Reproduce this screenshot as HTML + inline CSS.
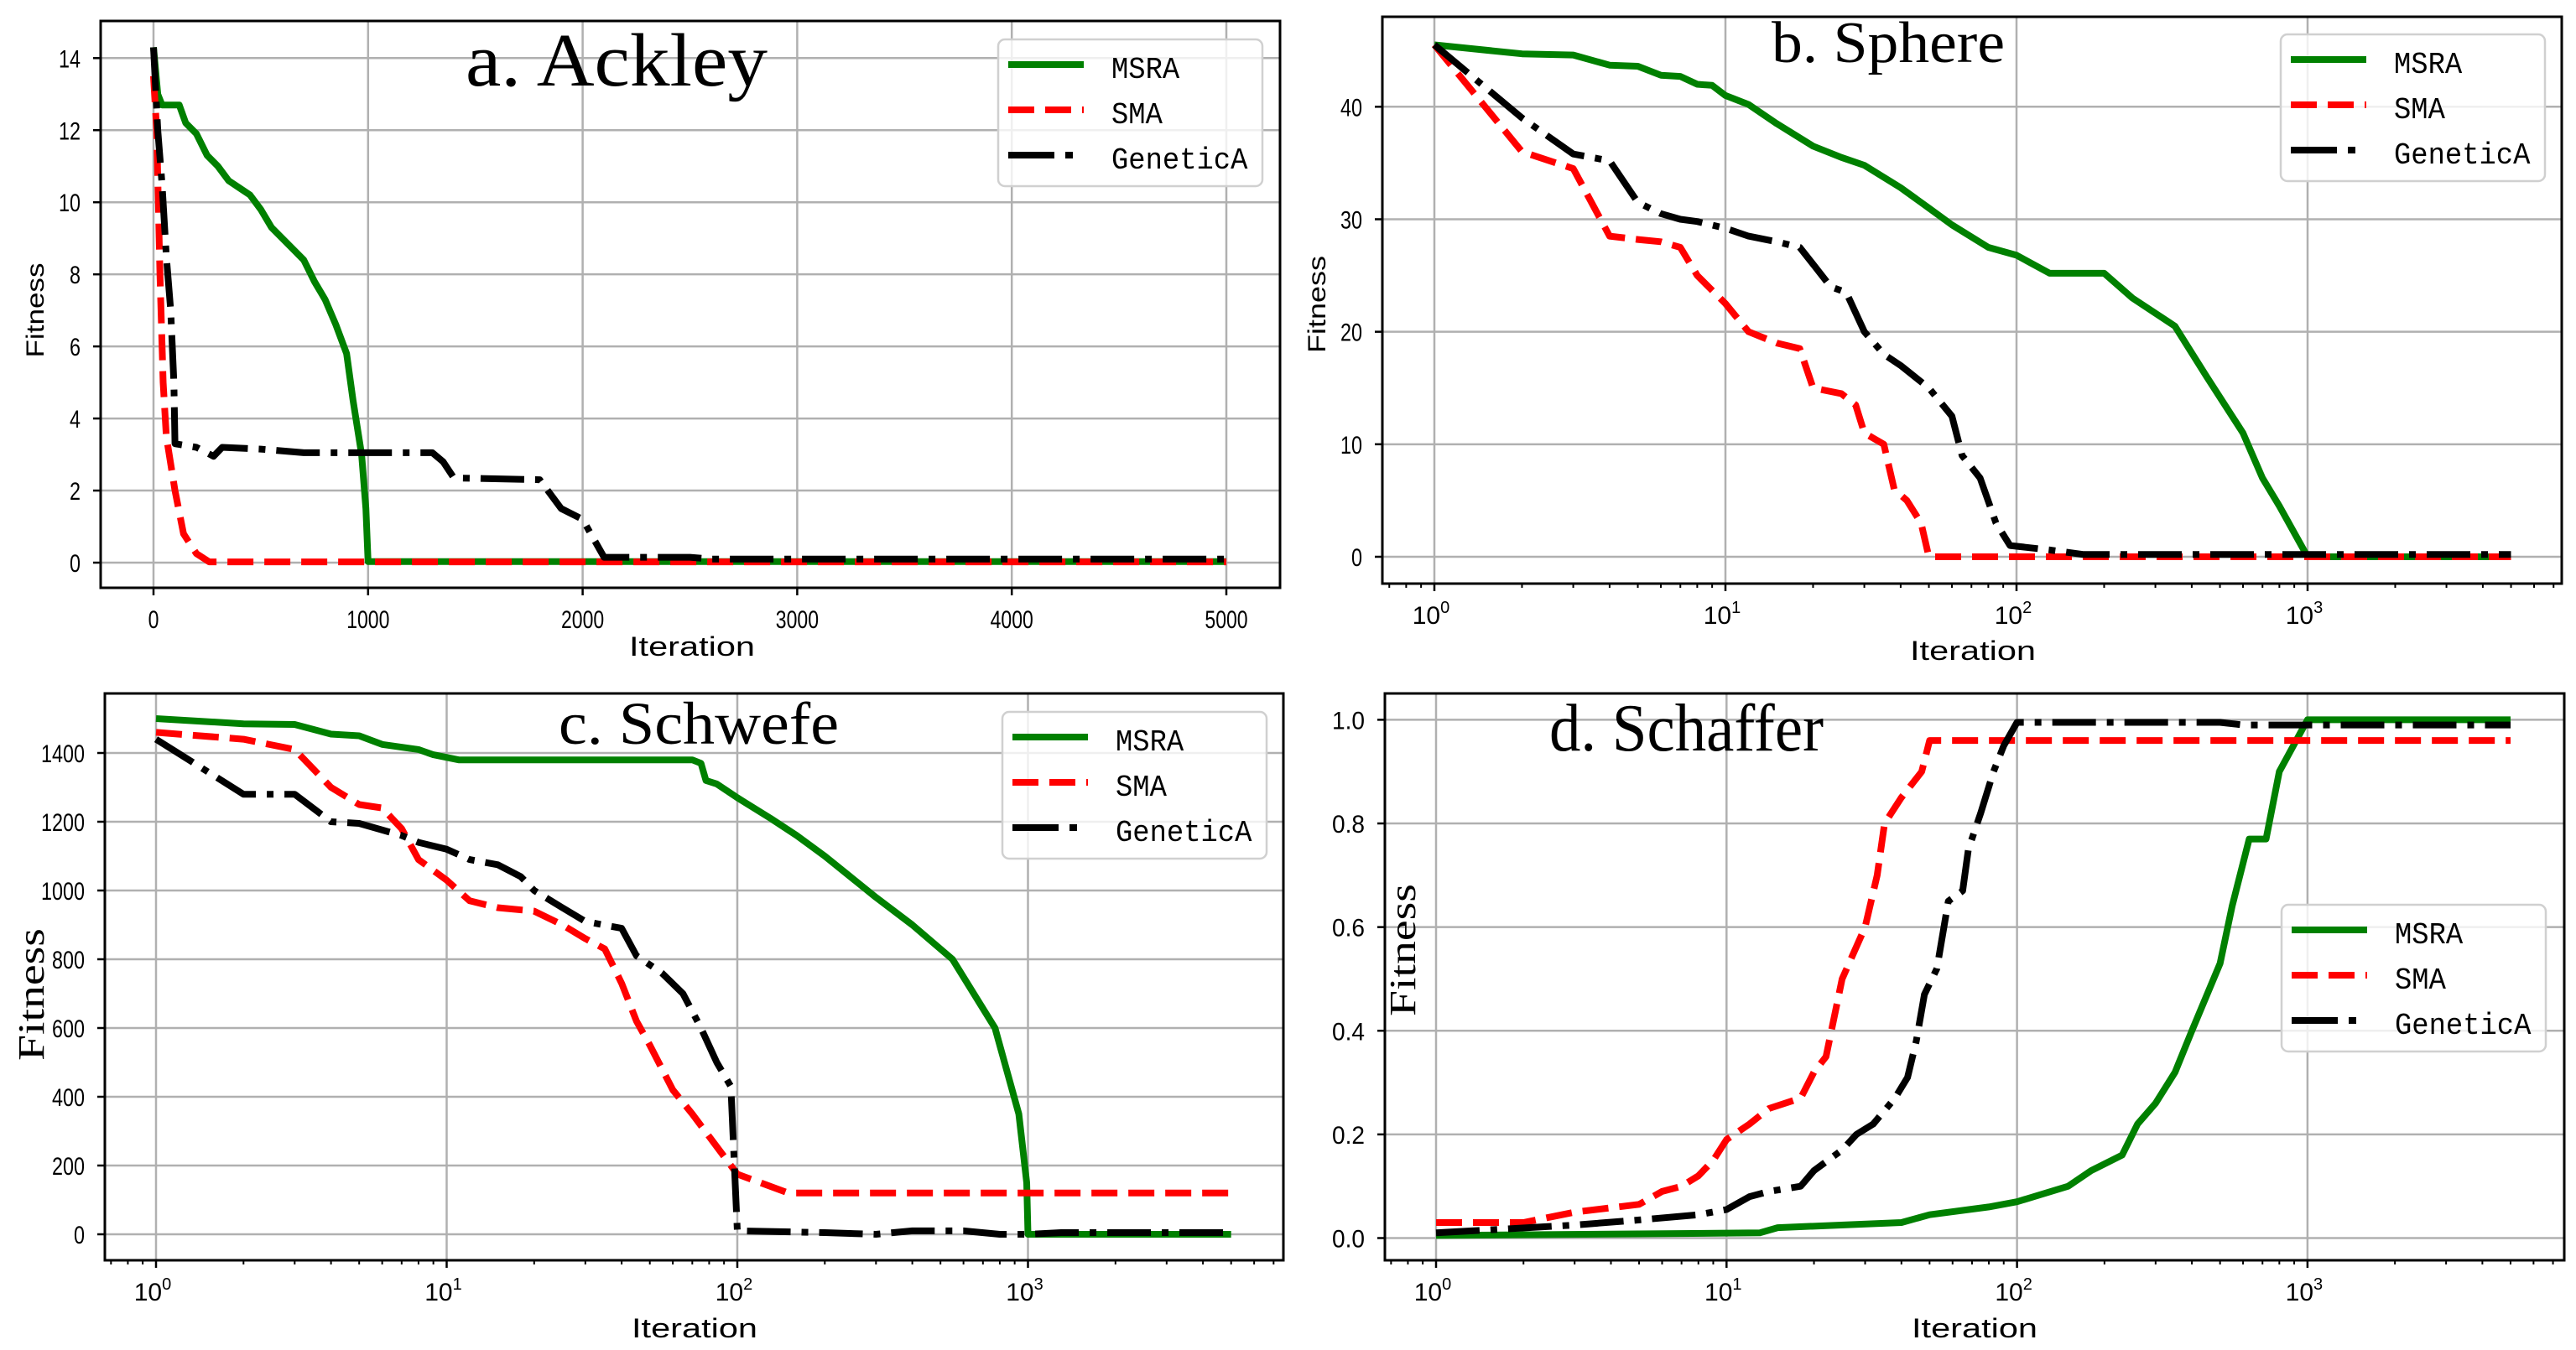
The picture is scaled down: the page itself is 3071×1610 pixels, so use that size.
<!DOCTYPE html>
<html><head><meta charset="utf-8"><style>
html,body{margin:0;padding:0;background:#fff;}
svg{display:block;}
</style></head><body>
<svg id="chart" width="3071" height="1610" viewBox="0 0 3071 1610" xmlns="http://www.w3.org/2000/svg">
<rect x="0" y="0" width="3071" height="1610" fill="#fff"/>
</svg>
<script>
// ---------- Data ----------
// Panel a: Ackley (linear x)
const aMsraX = [0,20,40,120,150,200,250,300,350,400,450,500,550,600,650,700,750,800,850,900,930,970,990,1000,5000];
const aMsraY = [14.3,13,12.7,12.7,12.2,11.9,11.3,11,10.6,10.4,10.2,9.8,9.3,9,8.7,8.4,7.8,7.3,6.6,5.8,4.5,3,1.5,0.03,0.03];
const aSmaX = [0,15,30,45,60,100,140,200,260,5000];
const aSmaY = [13.5,12,8,5,3.5,2,0.8,0.25,0.02,0.02];
const aGaX = [0,20,40,60,80,95,100,200,280,320,500,700,1300,1350,1400,1800,1900,2000,2100,2500,2600,5000];
const aGaY = [14.3,12,10.5,8.5,7,5,3.3,3.2,2.95,3.2,3.15,3.05,3.05,2.8,2.35,2.3,1.5,1.2,0.15,0.15,0.1,0.1];
const aXTicks = [0,1000,2000,3000,4000,5000];
const aYTicks = [0,2,4,6,8,10,12,14];
// Panel b: Sphere (log x)
const bMsraX = [1,2,3,4,5,6,7,8,9,10,12,15,20,25,30,40,50,60,80,100,130,200,250,350,450,600,700,800,1000,5000];
const bMsraY = [45.5,44.7,44.6,43.7,43.6,42.8,42.7,42,41.9,41,40.2,38.5,36.5,35.5,34.8,32.8,31,29.5,27.5,26.8,25.2,25.2,23,20.5,16,11,7,4.5,0,0];
const bSmaX = [1,2,3,4,5,6,7,8,10,12,15,18,20,25,28,30,35,38,42,47,50,5000];
const bSmaY = [45.5,36,34.5,28.5,28.2,28,27.5,25,22.5,20,19,18.5,15,14.5,13.5,11,10,6,5,3,0,0];
const bGaX = [1,2,3,4,5,6,7,8,10,12,15,18,20,23,26,30,35,40,50,60,65,75,85,95,130,170,5000];
const bGaY = [45.5,39,35.8,35.2,31.5,30.5,30,29.8,29.2,28.5,28,27.5,26,24,23.5,20,18,17,15,12.5,9,7,3,1,0.6,0.2,0.2];
const bYTicks = [0,10,20,30,40];
// Panel c: Schwefel (log x)
const cMsraX = [1,2,3,4,5,6,8,9,11,70,75,78,85,100,130,160,200,300,400,550,770,930,990,1000,5000];
const cMsraY = [1500,1485,1483,1455,1450,1425,1410,1395,1380,1380,1370,1320,1310,1270,1210,1160,1100,980,900,800,600,350,150,0,0];
const cSmaX = [1,2,3,4,5,6,7,8,10,12,15,20,25,30,35,40,45,50,60,70,100,150,5000];
const cSmaY = [1460,1440,1410,1300,1250,1240,1180,1090,1030,970,950,940,900,860,830,730,620,550,420,350,175,120,120];
const cGaX = [1,2,3,4,5,7,8,10,12,15,18,20,25,30,40,45,55,65,75,85,95,100,200,300,400,600,800,1000,1300,5000];
const cGaY = [1440,1280,1280,1200,1195,1160,1140,1120,1090,1075,1040,1000,950,910,890,810,760,700,600,500,430,10,5,0,10,10,0,0,5,5];
const cYTicks = [0,200,400,600,800,1000,1200,1400];
// Panel d: Schaffer (log x)
const dMsraX = [1,13,15,40,50,80,100,150,180,230,260,300,350,400,500,550,630,720,800,1000,5000];
const dMsraY = [0.005,0.01,0.02,0.03,0.045,0.06,0.07,0.1,0.13,0.16,0.22,0.26,0.32,0.4,0.53,0.64,0.77,0.77,0.9,1.0,1.0];
const dSmaX = [1,2,3,5,6,7,8,9,10,12,14,18,20,22,25,30,33,35,40,47,50,5000];
const dSmaY = [0.03,0.03,0.05,0.065,0.09,0.1,0.12,0.15,0.19,0.22,0.25,0.27,0.32,0.35,0.5,0.6,0.7,0.8,0.85,0.9,0.96,0.96];
const dGaX = [1,3,5,8,10,12,14,18,20,25,28,32,38,42,45,48,53,58,65,68,75,83,90,100,500,600,5000];
const dGaY = [0.01,0.025,0.035,0.045,0.055,0.08,0.09,0.1,0.13,0.17,0.2,0.22,0.27,0.31,0.38,0.47,0.52,0.65,0.67,0.75,0.82,0.9,0.95,0.995,0.995,0.99,0.99];
const dYTicks = [0,0.2,0.4,0.6,0.8,1.0];
const logXTicks = [0,1,2,3];
const seriesNames = ["MSRA","SMA","GeneticA"];

// ---------- Rendering ----------
const NS = "http://www.w3.org/2000/svg";
const svg = document.getElementById("chart");
function mk(tag, parent, attrs){
  const e = document.createElementNS(NS, tag);
  for (const k in attrs) e.setAttribute(k, attrs[k]);
  parent.appendChild(e);
  return e;
}
const STY = [
  {stroke:"#008000", w:8, dash:null},
  {stroke:"#ff0000", w:8, dash:"31 13"},
  {stroke:"#000000", w:8, dash:"52 13 8 13"}
];

function panel(cfg){
  const g = mk("g", svg, {});
  
  
  const xs = cfg.log ? (v => cfg.x0 + cfg.dec * Math.log10(v)) : (v => cfg.x0 + (cfg.x1 - cfg.x0) * v / cfg.xmax);
  const ys = v => cfg.y0 - cfg.yk * v;
  const cid = "clip-" + cfg.name;
  const cp = mk("clipPath", g, {id: cid});
  mk("rect", cp, {x: cfg.l, y: cfg.t, width: cfg.r - cfg.l, height: cfg.b - cfg.t});
  const grid = mk("g", g, {stroke: "#b0b0b0", "stroke-width": 2.5});
  
  
  const xt = cfg.log ? logXTicks.map(p => Math.pow(10, p)) : cfg.xTicks;
  xt.forEach(v => { const x = xs(v); mk("line", grid, {x1: x, x2: x, y1: cfg.t, y2: cfg.b}); });
  cfg.yTicks.forEach(v => { const y = ys(v); mk("line", grid, {x1: cfg.l, x2: cfg.r, y1: y, y2: y}); });
  const sg = mk("g", g, {"clip-path": "url(#" + cid + ")"});
  cfg.series.forEach((s, i) => {
    const d = s[0].map((xv, k) => (k ? "L" : "M") + xs(xv).toFixed(1) + " " + ys(s[1][k]).toFixed(1)).join(" ");
    const p = mk("path", sg, {d: d, fill: "none", stroke: STY[i].stroke, "stroke-width": STY[i].w, "stroke-linejoin": "round"});
    if (STY[i].dash) p.setAttribute("stroke-dasharray", STY[i].dash);
    
    
  });
  const fr = mk("rect", g, {x: cfg.l, y: cfg.t, width: cfg.r - cfg.l, height: cfg.b - cfg.t, fill: "none", stroke: "#000", "stroke-width": 3});
  
  
  const xa = mk("g", g, {});
  
  
  xt.forEach((v, i) => {
    const x = xs(v);
    mk("line", xa, {x1: x, x2: x, y1: cfg.b, y2: cfg.b + 9, stroke: "#000", "stroke-width": 2.5});
    if (cfg.log) {
      const t = mk("text", xa, {x: x - 4, y: cfg.b + 48, "font-family": "Liberation Sans, sans-serif", "font-size": 30, "text-anchor": "middle", fill: "#000"});
      t.appendChild(document.createTextNode("10"));
      const sp = mk("tspan", t, {dy: -13, "font-size": 20});
      sp.textContent = String(logXTicks[i]);
      
      
    } else {
      const s = String(v);
      const t = mk("text", xa, {x: x, y: cfg.b + 48, "font-family": "Liberation Sans, sans-serif", "font-size": 30, "text-anchor": "middle", textLength: s.length * 12.8, lengthAdjust: "spacingAndGlyphs", fill: "#000"});
      t.textContent = s;
      
      
    }
  });
  if (cfg.log) {
    for (let p = -1; p <= 3; p++) for (let m = 2; m <= 9; m++) {
      const v = m * Math.pow(10, p);
      const x = xs(v);
      if (x < cfg.l + 2 || x > cfg.r - 2) continue;
      mk("line", xa, {x1: x, x2: x, y1: cfg.b, y2: cfg.b + 5, stroke: "#000", "stroke-width": 2});
    }
  }
  const ya = mk("g", g, {});
  
  
  cfg.yTicks.forEach(v => {
    const y = ys(v);
    mk("line", ya, {x1: cfg.l - 9, x2: cfg.l, y1: y, y2: y, stroke: "#000", "stroke-width": 2.5});
    const s = cfg.fmt(v);
    const t = mk("text", ya, {x: cfg.l - 24, y: y + 11, "font-family": "Liberation Sans, sans-serif", "font-size": 30, "text-anchor": "end", textLength: s.length * 13, lengthAdjust: "spacingAndGlyphs", fill: "#000"});
    t.textContent = s;
    
    
  });
  const xl = mk("text", g, {x: cfg.xlx, y: cfg.xly, "font-family": "Liberation Sans, sans-serif", "font-size": 32, "text-anchor": "middle", textLength: 150, lengthAdjust: "spacingAndGlyphs", fill: "#000"});
  xl.textContent = "Iteration";
  
  
  const yl = mk("text", g, {x: 0, y: 0, transform: "translate(" + cfg.ylx + "," + cfg.yly + ") rotate(-90)", "font-family": cfg.ylSerif ? "Liberation Serif, serif" : "Liberation Sans, sans-serif", "font-size": cfg.ylSize, "text-anchor": "middle", textLength: cfg.ylLen, lengthAdjust: "spacingAndGlyphs", fill: "#000"});
  yl.textContent = "Fitness";
  
  
  const tt = mk("text", g, {x: cfg.tx, y: cfg.ty, "font-family": "Liberation Serif, serif", "font-size": cfg.ts, textLength: cfg.tl, lengthAdjust: "spacingAndGlyphs", fill: "#000"});
  tt.textContent = cfg.title;
  
  
  const lg = mk("g", g, {});
  
  
  mk("rect", lg, {x: cfg.lgx, y: cfg.lgy, width: 315, height: 175, rx: 8, fill: "rgba(255,255,255,0.8)", stroke: "#d0d0d0", "stroke-width": 2.5});
  seriesNames.forEach((n, i) => {
    const y = cfg.lgy + 30 + i * 54;
    const e = mk("g", lg, {});
    
    
    const ln = mk("line", e, {x1: cfg.lgx + 12, x2: cfg.lgx + 102, y1: y, y2: y, stroke: STY[i].stroke, "stroke-width": 8});
    if (STY[i].dash) ln.setAttribute("stroke-dasharray", i === 1 ? "31 13" : "55 13 9 13");
    const t = mk("text", e, {x: cfg.lgx + 135, y: y + 16, "font-family": "Liberation Mono, monospace", "font-size": 36, textLength: n.length * 20.3, lengthAdjust: "spacingAndGlyphs", fill: "#000"});
    t.textContent = n;
  });
}

const intFmt = v => String(v);
panel({name: "panel-a-ackley", log: false, l: 120, r: 1526, t: 25, b: 701, x0: 183, x1: 1462, xmax: 5000, xTicks: aXTicks,
  y0: 671, yk: (671 - 69.3) / 14, yTicks: aYTicks, fmt: intFmt,
  series: [[aMsraX, aMsraY], [aSmaX, aSmaY], [aGaX, aGaY]],
  xlx: 825, xly: 782, ylx: 52, yly: 370, ylSerif: false, ylSize: 30, ylLen: 113,
  title: "a. Ackley", tx: 555, ty: 102, ts: 90, tl: 360, lgx: 1190, lgy: 47});
panel({name: "panel-b-sphere", log: true, l: 1648, r: 3054, t: 20, b: 696, x0: 1710, dec: 347,
  y0: 664, yk: (664 - 127.3) / 40, yTicks: bYTicks, fmt: intFmt,
  series: [[bMsraX, bMsraY], [bSmaX, bSmaY], [bGaX, bGaY]],
  xlx: 2352, xly: 787, ylx: 1580, yly: 363, ylSerif: false, ylSize: 30, ylLen: 116,
  title: "b. Sphere", tx: 2112, ty: 74, ts: 70, tl: 278, lgx: 2719, lgy: 41});
panel({name: "panel-c-schwefel", log: true, l: 125, r: 1530, t: 827, b: 1503, x0: 186, dec: 346.5,
  y0: 1472, yk: (1472 - 898) / 1400, yTicks: cYTicks, fmt: intFmt,
  series: [[cMsraX, cMsraY], [cSmaX, cSmaY], [cGaX, cGaY]],
  xlx: 828, xly: 1595, ylx: 52, yly: 1186, ylSerif: true, ylSize: 44, ylLen: 158,
  title: "c. Schwefe", tx: 666, ty: 887, ts: 72, tl: 334, lgx: 1195, lgy: 849});
panel({name: "panel-d-schaffer", log: true, l: 1651, r: 3057, t: 827, b: 1503, x0: 1712, dec: 346.3,
  y0: 1476.5, yk: (1476.5 - 858.4) / 1.0, yTicks: dYTicks, fmt: v => v.toFixed(1),
  series: [[dMsraX, dMsraY], [dSmaX, dSmaY], [dGaX, dGaY]],
  xlx: 2354, xly: 1595, ylx: 1687, yly: 1133, ylSerif: true, ylSize: 44, ylLen: 158,
  title: "d. Schaffer", tx: 1847, ty: 895, ts: 80, tl: 327, lgx: 2720, lgy: 1079});
</script>
</body></html>
